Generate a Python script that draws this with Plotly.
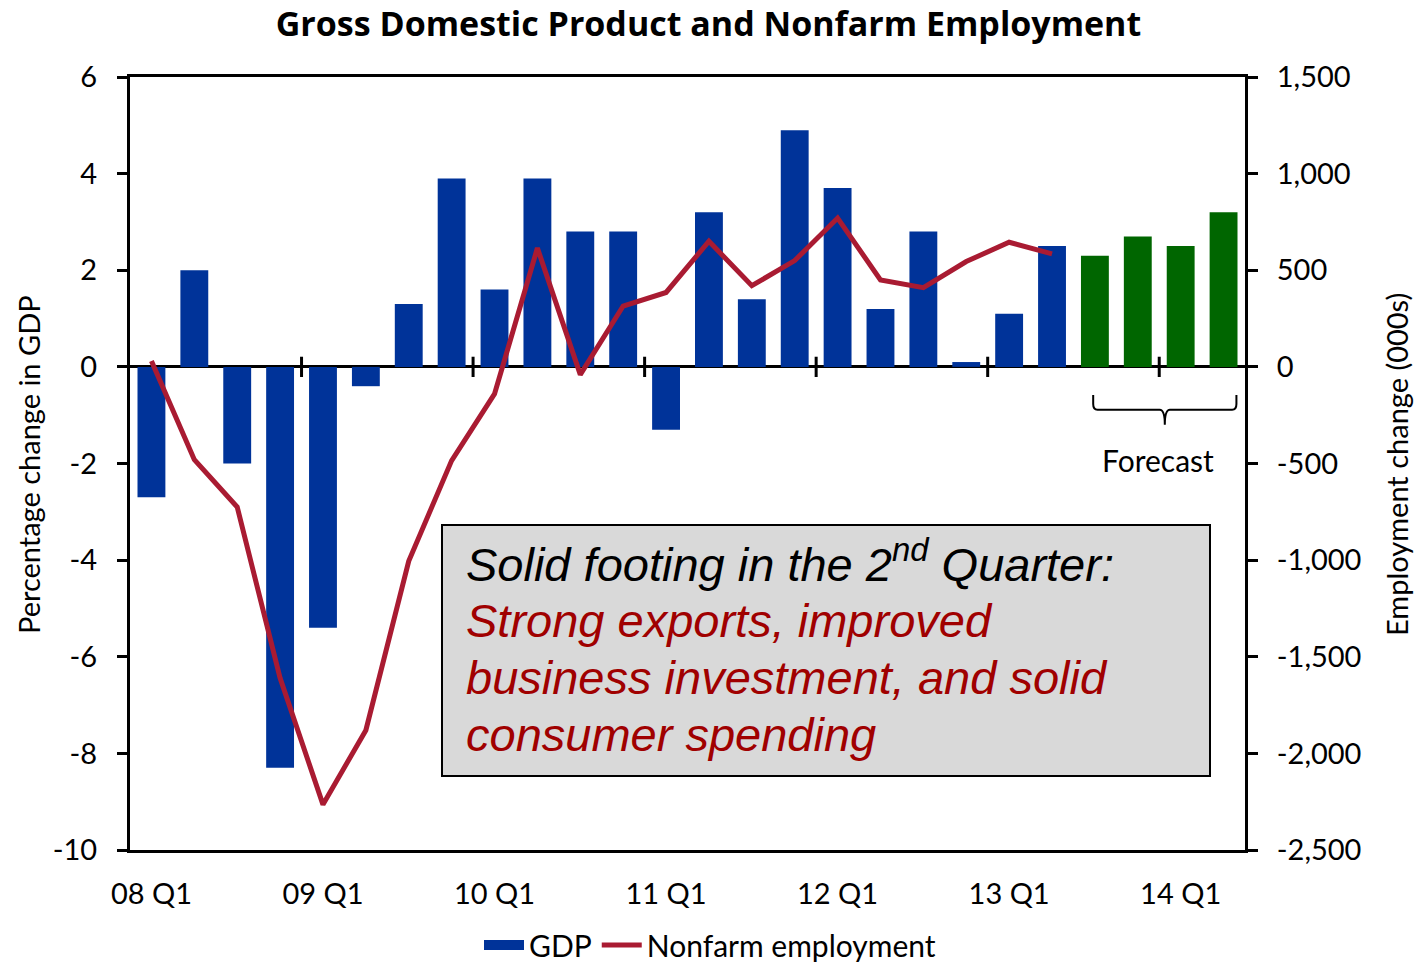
import plotly.graph_objects as go

quarters = ["08 Q1","08 Q2","08 Q3","08 Q4","09 Q1","09 Q2","09 Q3","09 Q4",
            "10 Q1","10 Q2","10 Q3","10 Q4","11 Q1","11 Q2","11 Q3","11 Q4",
            "12 Q1","12 Q2","12 Q3","12 Q4","13 Q1","13 Q2","13 Q3","13 Q4",
            "14 Q1","14 Q2"]
gdp = [-2.7, 2.0, -2.0, -8.3, -5.4, -0.4, 1.3, 3.9,
       1.6, 3.9, 2.8, 2.8, -1.3, 3.2, 1.4, 4.9,
       3.7, 1.2, 2.8, 0.1, 1.1, 2.5, 2.3, 2.7,
       2.5, 3.2]
forecast = [False]*22 + [True]*4
employment = [30, -480, -725, -1610, -2265, -1880, -1005, -485,
              -140, 615, -40, 315, 385, 650, 420, 550,
              770, 450, 410, 545, 645, 585]
gdp_ticks = [-10, -8, -6, -4, -2, 0, 2, 4, 6]
emp_ticks = [-2500, -2000, -1500, -1000, -500, 0, 500, 1000, 1500]
box_lines = ["Solid footing in the 2<sup>nd</sup> Quarter:",
             "Strong exports, improved",
             "business investment, and solid",
             "consumer spending"]

BLUE = "#003399"
GREEN = "#006600"
RED = "#a91b32"
TEXT_RED = "#a00000"
FONT = "Lato"

# plot area geometry (pixels)
L, R, T, B = 130, 1245, 77, 850
W, H = 1421, 964
PW, PH = R - L, B - T
def px(x): return (x - L) / PW
def py(y): return (B - y) / PH

def fmt(v):
    return ("-" if v < 0 else "") + f"{abs(v):,}"

xs = list(range(len(quarters)))
bar_colors = [GREEN if f else BLUE for f in forecast]

fig = go.Figure()
fig.add_trace(go.Bar(x=xs, y=gdp, name="GDP", marker=dict(color=bar_colors, line=dict(width=0)),
                     showlegend=False))
# legend proxy for GDP (blue rectangle)
fig.add_trace(go.Scatter(x=[None], y=[None], name="GDP", mode="lines",
                         line=dict(color=BLUE, width=18)))
fig.add_trace(go.Scatter(x=xs[:len(employment)], y=employment, name="Nonfarm employment",
                         yaxis="y2", mode="lines", line=dict(color=RED, width=5)))

q1_idx = [i for i, q in enumerate(quarters) if q.endswith("Q1")]

fig.update_layout(
    width=W, height=H,
    margin=dict(l=L, r=W - R, t=T, b=H - B, autoexpand=False),
    plot_bgcolor="white", paper_bgcolor="white",
    bargap=0.35,
    font=dict(family=FONT, size=29, color="black"),
    title=dict(text="<b>Gross Domestic Product and Nonfarm Employment</b>",
               x=708.5 / W, xref="container", xanchor="center",
               y=1 - 24 / H, yref="container", yanchor="middle",
               font=dict(family="Open Sans", size=34, color="black")),
    xaxis=dict(range=[-0.5, len(quarters) - 0.5], tickvals=q1_idx,
               ticktext=[quarters[i] for i in q1_idx],
               showline=True, linecolor="black", linewidth=3, mirror=True,
               ticks="", ticklabelstandoff=16,
               showgrid=False, zeroline=False, tickfont=dict(size=29)),
    yaxis=dict(range=[-10, 6], tickvals=gdp_ticks, ticktext=[fmt(v) for v in gdp_ticks],
               showline=True, linecolor="black", linewidth=3,
               ticks="outside", ticklen=10, tickwidth=3, tickcolor="black",
               ticklabelstandoff=14,
               showgrid=False, zeroline=True, zerolinecolor="black", zerolinewidth=3,
               tickfont=dict(size=29)),
    yaxis2=dict(range=[-2500, 1500], tickvals=emp_ticks, ticktext=[fmt(v) for v in emp_ticks],
                overlaying="y", side="right",
                showline=True, linecolor="black", linewidth=3,
                ticks="outside", ticklen=10, tickwidth=3, tickcolor="black",
                ticklabelstandoff=13,
                showgrid=False, zeroline=False, tickfont=dict(size=29)),
    legend=dict(orientation="h", x=px(710), xanchor="center", y=py(945), yanchor="middle",
                font=dict(size=30), itemwidth=40, bgcolor="rgba(0,0,0,0)",
                tracegroupgap=0),
)

shapes = []
# year-boundary tick marks on the zero line
for i in q1_idx[1:]:
    shapes.append(dict(type="line", xref="x", yref="y", x0=i - 0.5, x1=i - 0.5,
                       y0=-0.21, y1=0.21, line=dict(color="black", width=3)))
# forecast brace
f_idx = [i for i, f in enumerate(forecast) if f]
a, b = f_idx[0] - 0.04, f_idx[-1] + 0.3
m = (a + b) / 2
ytop, ymid, ybot = -0.58, -0.89, -1.2
path = (f"M {a},{ytop} L {a},{ymid+0.12} Q {a},{ymid} {a+0.1},{ymid} "
        f"L {m-0.12},{ymid} Q {m},{ymid} {m},{ybot} Q {m},{ymid} {m+0.12},{ymid} "
        f"L {b-0.1},{ymid} Q {b},{ymid} {b},{ymid+0.12} L {b},{ytop}")
shapes.append(dict(type="path", xref="x", yref="y", path=path,
                   line=dict(color="black", width=2)))
# text box
shapes.append(dict(type="rect", xref="paper", yref="paper",
                   x0=px(442), x1=px(1210), y0=py(776), y1=py(525),
                   fillcolor="#d9d9d9", line=dict(color="black", width=2), layer="above"))
fig.update_layout(shapes=shapes)

fig.add_annotation(x=m, y=-1.93, xref="x", yref="y", text="Forecast", showarrow=False,
                   font=dict(size=30), xanchor="center", yanchor="middle", xshift=-7)

# axis titles
fig.add_annotation(x=px(28), y=py(465), xref="paper", yref="paper",
                   text="Percentage change in GDP", textangle=-90, showarrow=False,
                   font=dict(size=29), xanchor="center", yanchor="middle")
fig.add_annotation(x=px(1396), y=py(465), xref="paper", yref="paper",
                   text="Employment change (000s)", textangle=-90, showarrow=False,
                   font=dict(size=29), xanchor="center", yanchor="middle")

# text box lines
baselines = [582, 638, 695, 752]
for k, (line, base) in enumerate(zip(box_lines, baselines)):
    color = "black" if k == 0 else TEXT_RED
    fig.add_annotation(x=px(465), y=py(base + 10), xref="paper", yref="paper",
                       xanchor="left", yanchor="bottom", text=f"<i>{line}</i>",
                       showarrow=False, borderpad=0,
                       font=dict(family="Liberation Sans", size=47, color=color))

fig.write_html("out.html", config={"displayModeBar": False},
               post_script="document.body.style.margin='0';")
